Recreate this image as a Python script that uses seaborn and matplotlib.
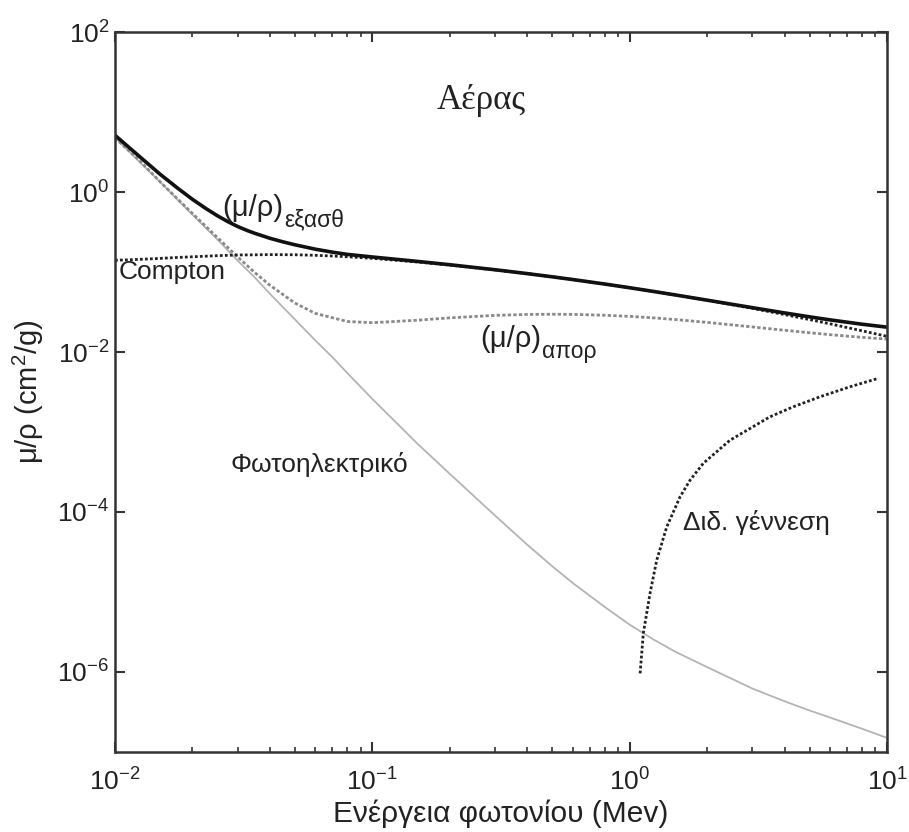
import numpy as np
import matplotlib
matplotlib.use('Agg')
import matplotlib.pyplot as plt
import matplotlib.ticker as mticker
import seaborn as sns

# photon energy grid (MeV) for air
energy = np.array([0.01, 0.0125, 0.015, 0.0175, 0.02, 0.025, 0.03, 0.035, 0.04, 0.05, 0.06, 0.07,
                   0.08, 0.1, 0.15, 0.2, 0.3, 0.4, 0.5, 0.6, 0.8, 1.0, 1.25, 1.5, 2.0, 3.0, 4.0,
                   5.0, 6.0, 8.0, 10.0])
# energy absorption (mu/rho)_apor
mu_abs = np.array([4.742, 2.45, 1.334, 0.82, 0.5389, 0.27, 0.1537, 0.098, 0.06833, 0.04098,
                   0.03041, 0.0268, 0.02407, 0.02325, 0.02496, 0.02672, 0.02872, 0.02949,
                   0.02966, 0.02953, 0.02882, 0.02789, 0.02666, 0.02547, 0.02345, 0.02057,
                   0.0187, 0.0174, 0.01647, 0.01525, 0.0145])
# Compton (incoherent)
compton = np.array([0.14, 0.144, 0.148, 0.152, 0.155, 0.16, 0.1632, 0.164, 0.165, 0.1643, 0.1617,
                    0.1585, 0.1551, 0.1481, 0.1333, 0.1221, 0.1064, 0.09543, 0.08709, 0.08053,
                    0.07074, 0.06357, 0.05684, 0.05171, 0.04434, 0.03509, 0.02937, 0.02542,
                    0.0225, 0.01841, 0.01569])
# photoelectric
photo = np.array([4.8, 2.35, 1.33, 0.80, 0.52, 0.255, 0.138, 0.085, 0.0534, 0.0256, 0.014,
                  0.0086, 0.00544, 0.00259, 7.1e-4, 3.0e-4, 9.0e-5, 3.9e-5, 2.1e-5, 1.3e-5,
                  6.5e-6, 3.9e-6, 2.5e-6, 1.8e-6, 1.15e-6, 6.2e-7, 4.3e-7, 3.3e-7, 2.7e-7,
                  1.95e-7, 1.5e-7])

# total attenuation (mu/rho)_exasth, read on its own finer grid
total_energy = np.array([0.01, 0.0125, 0.015, 0.0175, 0.02, 0.0225, 0.025, 0.0275, 0.03, 0.0325,
                         0.035, 0.04, 0.045, 0.05, 0.06, 0.07, 0.08, 0.1, 0.15, 0.2, 0.3, 0.4,
                         0.5, 0.6, 0.8, 1.0, 1.25, 1.5, 2.0, 3.0, 4.0, 5.0, 6.0, 8.0, 10.0])
mu_total = np.array([5.12, 2.75, 1.66, 1.12, 0.81, 0.625, 0.505, 0.425, 0.37, 0.332, 0.304, 0.264,
                     0.238, 0.219, 0.193, 0.177, 0.166, 0.1541, 0.1356, 0.1233, 0.1067, 0.09549,
                     0.08712, 0.08055, 0.07074, 0.06358, 0.05687, 0.05175, 0.04447, 0.03581,
                     0.03079, 0.02751, 0.02522, 0.02225, 0.02045])

# pair production
pair_energy = np.array([1.098, 1.114, 1.13, 1.2, 1.236, 1.274, 1.393, 1.57, 1.717, 1.934, 2.455,
                        3.51, 4.33, 5.5, 7.19, 9.26])
pair = np.array([9.6e-7, 1.71e-6, 3.05e-6, 9.6e-6, 1.55e-5, 2.5e-5, 6.5e-5, 1.55e-4, 2.5e-4,
                 4.07e-4, 7.9e-4, 1.55e-3, 2.07e-3, 2.76e-3, 3.68e-3, 4.69e-3])

sns.set_style('ticks')
plt.rcParams['font.family'] = ['Liberation Sans', 'DejaVu Sans']
plt.rcParams['mathtext.fontset'] = 'custom'
plt.rcParams['mathtext.rm'] = 'Liberation Sans'
plt.rcParams['mathtext.it'] = 'Liberation Sans'

fig = plt.figure(figsize=(9.09, 8.32), dpi=100)
ax = fig.add_axes([0.1265, 0.0962, 0.8493, 0.8653])

sns.lineplot(x=energy, y=photo, ax=ax, color='#b4b4b4', lw=1.3)
sns.lineplot(x=energy, y=mu_abs, ax=ax, color='#8a8a8a', lw=2.0, linestyle=(0, (1.2, 0.8)))
sns.lineplot(x=energy, y=compton, ax=ax, color='#222222', lw=2.0, linestyle=(0, (1, 0.8)))
sns.lineplot(x=pair_energy, y=pair, ax=ax, color='#222222', lw=2.0, linestyle=(0, (1, 0.8)))
sns.lineplot(x=total_energy, y=mu_total, ax=ax, color='#111111', lw=2.6)

ax.set_xscale('log')
ax.set_yscale('log')
ax.set_xlim(1e-2, 1e1)
ax.set_ylim(1e-7, 1e2)
ax.set_yticks([1e-6, 1e-4, 1e-2, 1e0, 1e2])
ax.yaxis.set_minor_locator(mticker.NullLocator())
ax.xaxis.set_minor_locator(mticker.LogLocator(base=10, subs=np.arange(2, 10)))
ax.xaxis.set_minor_formatter(mticker.NullFormatter())

for s in ax.spines.values():
    s.set_linewidth(1.8)
    s.set_color('#333333')
ax.tick_params(which='major', direction='in', length=7, width=1.5, top=True, right=True,
               labelsize=19, colors='#333333', labelcolor='#222222')
ax.tick_params(which='minor', direction='in', length=3.5, width=1.2, top=True, right=True,
               colors='#333333')
ax.tick_params(axis='x', which='major', pad=12)
ax.tick_params(axis='y', which='major', pad=4)

ax.set_xlabel('Ενέργεια φωτονίου (Mev)', fontsize=21.5, color='#222222', labelpad=3)
ax.set_ylabel('μ/ρ (cm$^2$/g)', fontsize=21, color='#222222', labelpad=8)

txt = dict(color='#222222')
ax.text(0.265, 14, 'Αέρας', fontsize=25, family=['Liberation Serif', 'DejaVu Serif'],
        ha='center', va='center', **txt)

t1 = ax.text(0.026, 0.64, '(μ/ρ)', fontsize=21, ha='left', va='center', **txt)
ax.annotate('εξασθ', xy=(1, 0), xycoords=t1, xytext=(1, 1), textcoords='offset points',
            fontsize=16.5, ha='left', va='center', **txt)
t2 = ax.text(0.262, 0.0145, '(μ/ρ)', fontsize=21, ha='left', va='center', **txt)
ax.annotate('απορ', xy=(1, 0), xycoords=t2, xytext=(1, 1), textcoords='offset points',
            fontsize=16.5, ha='left', va='center', **txt)

ax.text(0.0103, 0.1, 'Compton', fontsize=19, ha='left', va='center', **txt)
ax.text(0.028, 3.9e-4, 'Φωτοηλεκτρικό', fontsize=19, ha='left', va='center', **txt)
ax.text(1.61, 7.3e-5, 'Διδ. γέννεση', fontsize=19, ha='left', va='center', **txt)

fig.savefig('out.png', dpi=100, facecolor='white')
